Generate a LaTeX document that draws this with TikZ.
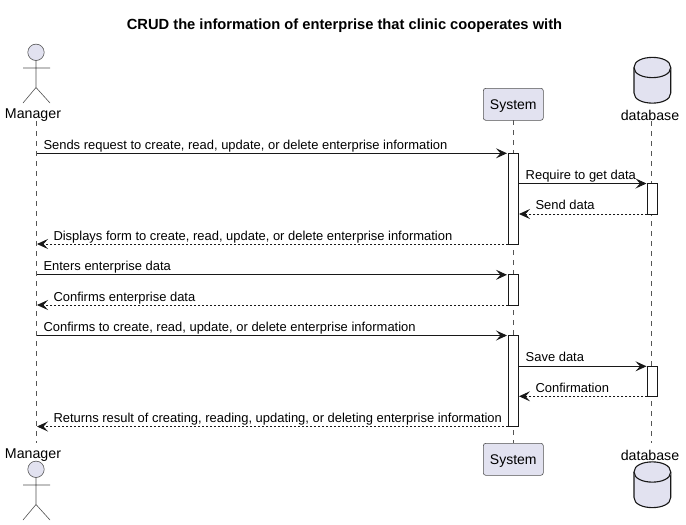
\documentclass[tikz,border=0pt]{standalone}
\usepackage{fontspec}
\setmainfont{Liberation Sans}
\usetikzlibrary{arrows.meta,shapes.geometric}
\definecolor{part}{HTML}{E2E2F0}
\definecolor{ink}{HTML}{181818}
\definecolor{life}{HTML}{555555}
\tikzset{
  every node/.style={inner sep=0pt,outer sep=0pt,text=black},
  lifeline/.style={draw=life,line width=0.6pt,dash pattern=on 5pt off 5pt},
  actorline/.style={draw=ink!75,line width=0.6pt},
  actorhead/.style={circle,draw=ink!75,fill=part,line width=0.6pt,minimum size=16.4pt},
  partbox/.style={rectangle,rounded corners=2.5pt,draw=ink!75,line width=0.6pt,fill=part,minimum width=60pt,minimum height=32pt,text height=11pt,text depth=0pt,font=\fontsize{14}{16}\selectfont},
  partlabel/.style={font=\fontsize{14.2}{16}\selectfont},
  dbshape/.style={draw=ink,fill=part,line width=1.1pt},
  activation/.style={rectangle,draw=ink,fill=white,line width=0.9pt,minimum width=10.2pt},
  msg/.style={draw=ink,line width=0.9pt,-{Stealth[length=11pt,width=10pt,inset=4.5pt,fill=ink]}},
  reply/.style={msg,dash pattern=on 2pt off 2pt},
  msglabel/.style={anchor=base west,font=\fontsize{12.95}{15}\selectfont},
  titlelabel/.style={font=\bfseries\fontsize{14.7}{17}\selectfont}
}
\begin{document}
\begin{tikzpicture}[x=1pt,y=-1pt]
\useasboundingbox (0,0) rectangle (686,525);
\fill[white] (0,0) rectangle (686,525);
\node[titlelabel] (title) at (344.5,26) {CRUD the information of enterprise that clinic cooperates with};

% labels and participants
\node[partlabel] (mgrT) at (33,115) {Manager};
\node[partlabel] (mgrB) at (33,455) {Manager};
\node[partbox] (sysT) at (513.3,104.3) {System};
\node[partbox] (sysB) at (513.3,459.3) {System};
\node[partlabel] (dbT) at (650,115) {database};
\node[partlabel] (dbB) at (650,455) {database};

% lifelines
\coordinate (mgrTop) at (36.5,121);
\coordinate (mgrBot) at (36.5,443);
\coordinate (dbTop) at (651.5,121);
\coordinate (dbBot) at (651.5,443);
\draw[lifeline] (mgrTop) -- (mgrBot);
\draw[lifeline] (sysT.south) -- (sysB.north);
\draw[lifeline] (dbTop) -- (dbBot);

% actors
\node[actorhead] (headT) at (36,52.3) {};
\draw[actorline] (headT.south) -- (36,87.5) (23,68) -- (50,68) (23,103) -- (36,87.5) -- (50,103);
\node[actorhead] (headB) at (36,469.3) {};
\draw[actorline] (headB.south) -- (36,504.5) (23,485) -- (50,485) (23,520) -- (36,504.5) -- (50,520);

% database cylinders
\draw[dbshape] (634,67.5) .. controls (634,54) and (670.7,54) .. (670.7,67.5) -- (670.7,93) .. controls (670.7,106.5) and (634,106.5) .. (634,93) -- cycle;
\draw[dbshape] (634,67.5) .. controls (634,81) and (670.7,81) .. (670.7,67.5);
\draw[dbshape] (634,472) .. controls (634,458.5) and (670.7,458.5) .. (670.7,472) -- (670.7,497.5) .. controls (670.7,511) and (634,511) .. (634,497.5) -- cycle;
\draw[dbshape] (634,472) .. controls (634,485.5) and (670.7,485.5) .. (670.7,472);

% activations
\node[activation,minimum height=91pt] (s1) at (513.3,198.8) {};
\node[activation,minimum height=30.5pt] (s2) at (513.3,289.8) {};
\node[activation,minimum height=91.5pt] (s3) at (513.3,381) {};
\node[activation,minimum height=31pt] (d1) at (652.5,198.7) {};
\node[activation,minimum height=30.5pt] (d2) at (652.5,381.3) {};

% message end points
\coordinate (m1a) at (36.5,153.3);   \coordinate (m1b) at (507,153.3);
\coordinate (m2a) at (518.4,183.5);  \coordinate (m2b) at (646.5,183.5);
\coordinate (m3a) at (647.4,214);    \coordinate (m3b) at (519,214);
\coordinate (m4a) at (508.2,244);    \coordinate (m4b) at (37,244);
\coordinate (m5a) at (36.5,274.8);   \coordinate (m5b) at (507,274.8);
\coordinate (m6a) at (508.2,305);    \coordinate (m6b) at (37,305);
\coordinate (m7a) at (36.5,335.5);   \coordinate (m7b) at (507,335.5);
\coordinate (m8a) at (518.4,366.3);  \coordinate (m8b) at (646.5,366.3);
\coordinate (m9a) at (647.4,396.3);  \coordinate (m9b) at (519,396.3);
\coordinate (m10a) at (508.2,426.5); \coordinate (m10b) at (37,426.5);

\draw[msg] (m1a) -- (m1b);
\draw[msg] (m2a) -- (m2b);
\draw[reply] (m3a) -- (m3b);
\draw[reply] (m4a) -- (m4b);
\draw[msg] (m5a) -- (m5b);
\draw[reply] (m6a) -- (m6b);
\draw[msg] (m7a) -- (m7b);
\draw[msg] (m8a) -- (m8b);
\draw[reply] (m9a) -- (m9b);
\draw[reply] (m10a) -- (m10b);

\node[msglabel] (t1) at (43.5,149) {Sends request to create, read, update, or delete enterprise information};
\node[msglabel] (t2) at (525.7,179.3) {Require to get data};
\node[msglabel] (t3) at (535.6,209.8) {Send data};
\node[msglabel] (t4) at (53.5,240) {Displays form to create, read, update, or delete enterprise information};
\node[msglabel] (t5) at (43.5,270.5) {Enters enterprise data};
\node[msglabel] (t6) at (53.5,301) {Confirms enterprise data};
\node[msglabel] (t7) at (43.5,331.3) {Confirms to create, read, update, or delete enterprise information};
\node[msglabel] (t8) at (525.7,361.5) {Save data};
\node[msglabel] (t9) at (535.6,392.3) {Confirmation};
\node[msglabel] (t10) at (53.5,422.5) {Returns result of creating, reading, updating, or deleting enterprise information};
\end{tikzpicture}
\end{document}
